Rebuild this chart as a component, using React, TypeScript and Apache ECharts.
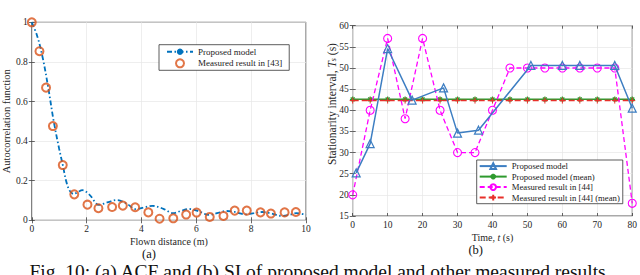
import React, { useEffect, useRef } from "react";
import * as echarts from "echarts";

// ---------- (a) ACF data ----------
const acfModelX = [0, 0.2, 0.4, 0.6, 0.8, 1.0, 1.13, 1.25, 1.38, 1.53, 1.65, 1.85, 2.1, 2.45, 2.75, 3.1, 3.45, 3.8, 4.1, 4.4, 4.8, 5.15, 5.45, 5.75, 6.1, 6.45, 6.8, 7.1, 7.4, 7.8, 8.1, 8.4, 8.75, 9.1, 9.4, 9.65, 10];
const acfModelY = [1, 0.93, 0.82, 0.67, 0.5, 0.36, 0.28, 0.2, 0.15, 0.133, 0.14, 0.152, 0.13, 0.078, 0.09, 0.102, 0.085, 0.056, 0.065, 0.073, 0.058, 0.036, 0.048, 0.057, 0.045, 0.027, 0.038, 0.047, 0.042, 0.03, 0.036, 0.042, 0.034, 0.022, 0.028, 0.036, 0.028];
const acfMeasX = [0, 0.28, 0.52, 0.77, 1.13, 1.55, 2.03, 2.43, 2.93, 3.32, 3.77, 4.25, 4.66, 5.16, 5.63, 6.01, 6.49, 6.99, 7.4, 7.84, 8.34, 8.72, 9.22, 9.63];
const acfMeasY = [1.0, 0.854, 0.67, 0.476, 0.279, 0.131, 0.079, 0.061, 0.067, 0.074, 0.066, 0.04, 0.008, 0.01, 0.029, 0.039, 0.017, 0.022, 0.049, 0.049, 0.04, 0.034, 0.04, 0.042];

// ---------- (b) SI data ----------
const siModelX = [1, 5, 10, 17, 26, 30, 36, 51, 60, 65, 75, 80];
const siModelY = [25.2, 32.1, 54.6, 42.4, 45.3, 34.6, 35.3, 50.6, 50.6, 50.6, 50.6, 40.5];
const siMeasX = [0, 5, 10, 15, 20, 25, 30, 35, 40, 45, 50, 55, 60, 65, 70, 75, 80];
const siMeasY = [20, 40, 57, 38, 57, 40, 30, 30, 40, 50, 50, 50, 50, 50, 50, 50, 18];
const meanX = [0, 5, 10, 15, 20, 25, 30, 35, 40, 45, 50, 55, 60, 65, 70, 75, 80];
const meanModelY = [42.6, 42.6, 42.6, 42.6, 42.6, 42.6, 42.6, 42.6, 42.6, 42.6, 42.6, 42.6, 42.6, 42.6, 42.6, 42.6, 42.6];
const meanMeasY = [42.3, 42.3, 42.3, 42.3, 42.3, 42.3, 42.3, 42.3, 42.3, 42.3, 42.3, 42.3, 42.3, 42.3, 42.3, 42.3, 42.3];

const FONT = "'Liberation Serif', 'Times New Roman', 'DejaVu Serif', serif";
const AX = "#262626";
const GRIDC = "#e6e6e6";

const zip = (xs: number[], ys: number[]) => xs.map((x, i) => [x, ys[i]]);

const legendNames: Record<string, string> = {
  "a|model": "Proposed model",
  "a|meas": "Measured result in [43]",
  "b|model": "Proposed model",
  "b|modelMean": "Proposed model (mean)",
  "b|meas": "Measured result in [44]",
  "b|measMean": "Measured result in [44] (mean)",
};

function mainX(gridIndex: number, min: number, max: number, interval: number, name: string, gap: number, rich?: any) {
  return {
    type: "value", gridIndex, min, max, interval, position: "bottom",
    name, nameLocation: "middle", nameGap: gap, nameMoveOverlap: false,
    nameTextStyle: { fontFamily: FONT, fontSize: 10, lineHeight: 11, color: AX, rich },
    axisLine: { show: false },
    axisTick: { show: true, inside: true, length: 3, lineStyle: { color: AX, width: 0.7 } },
    axisLabel: { margin: 4, fontFamily: FONT, fontSize: 9.5, color: AX },
    splitLine: { show: true, lineStyle: { color: GRIDC, width: 0.7 } },
  };
}
function mirrorX(gridIndex: number, min: number, max: number, interval: number) {
  return {
    type: "value", gridIndex, min, max, interval, position: "top",
    axisLine: { show: false },
    axisTick: { show: true, inside: true, length: 3, lineStyle: { color: AX, width: 0.7 } },
    axisLabel: { show: false }, splitLine: { show: false },
  };
}
function mainY(gridIndex: number, min: number, max: number, interval: number, name: string) {
  return {
    type: "value", gridIndex, min, max, interval, position: "left",
    name, nameLocation: "middle", nameGap: 17,
    nameTextStyle: { fontFamily: FONT, fontSize: 10.5, color: AX },
    axisLine: { show: false },
    axisTick: { show: true, inside: true, length: 3, lineStyle: { color: AX, width: 0.7 } },
    axisLabel: { margin: 4, fontFamily: FONT, fontSize: 9.5, color: AX },
    splitLine: { show: true, lineStyle: { color: GRIDC, width: 0.7 } },
  };
}
function mirrorY(gridIndex: number, min: number, max: number, interval: number) {
  return {
    type: "value", gridIndex, min, max, interval, position: "right",
    axisLine: { show: false },
    axisTick: { show: true, inside: true, length: 3, lineStyle: { color: AX, width: 0.7 } },
    axisLabel: { show: false }, splitLine: { show: false },
  };
}

const PLUS = "path://M0,5L10,5M5,0L5,10";
const STAR = "path://M5,0L5,10M0,5L10,5M1.5,1.5L8.5,8.5M8.5,1.5L1.5,8.5";

export default function App() {
  const ref = useRef<HTMLDivElement>(null);
  useEffect(() => {
    if (!ref.current) return;
    const chart = echarts.init(ref.current, null, { renderer: "svg" });
    const option: any = {
      animation: false,
      backgroundColor: "#ffffff",
      textStyle: { fontFamily: FONT },
      grid: [
        { left: 29.3, top: 22.3, width: 276.7, height: 198, show: true, borderColor: AX, borderWidth: 0.8, backgroundColor: "transparent" },
        { left: 352.7, top: 25.7, width: 283, height: 190.3, show: true, borderColor: AX, borderWidth: 0.8, backgroundColor: "transparent" },
      ],
      xAxis: [
        mainX(0, 0, 10, 2, "Flown distance (m)", 16),
        mirrorX(0, 0, 10, 2),
        mainX(1, 0, 80, 10, "Time, {i|t} (s)", 16, { i: { fontFamily: FONT, fontSize: 10, lineHeight: 11, fontStyle: "italic", color: AX } }),
        mirrorX(1, 0, 80, 10),
      ],
      yAxis: [
        mainY(0, 0, 1, 0.2, "Autocorrelation function"),
        mirrorY(0, 0, 1, 0.2),
        mainY(1, 15, 60, 5, ""),
        mirrorY(1, 15, 60, 5),
      ],
      legend: [
        {
          left: 159, top: 44.7, orient: "vertical", selectedMode: false,
          data: ["a|model", "a|meas"],
          formatter: (n: string) => legendNames[n] || n,
          backgroundColor: "#ffffff", borderColor: "#333333", borderWidth: 0.8,
          padding: [2, 7, 2, 7], itemWidth: 26, itemHeight: 8, itemGap: 1.6,
          textStyle: { fontFamily: FONT, fontSize: 9, color: "#1a1a1a", lineHeight: 10 },
        },
        {
          left: 476.7, top: 160, orient: "vertical", selectedMode: false,
          data: ["b|model", "b|modelMean", "b|meas", "b|measMean"],
          formatter: (n: string) => legendNames[n] || n,
          backgroundColor: "#ffffff", borderColor: "#333333", borderWidth: 0.8,
          padding: [1.5, 3, 1.5, 2], itemWidth: 27, itemHeight: 7, itemGap: 1.3,
          textStyle: { fontFamily: FONT, fontSize: 8.7, color: "#1a1a1a", lineHeight: 9.2 },
        },
      ],
      series: [
        {
          name: "a|model", type: "line", xAxisIndex: 0, yAxisIndex: 0,
          data: zip(acfModelX, acfModelY), smooth: 0.35, showSymbol: false, symbol: "none",
          lineStyle: { color: "#0072BD", width: 1.8, type: [5, 2.5, 1.5, 2.5] },
          itemStyle: { color: "#0072BD" }, z: 2,
        },
        {
          name: "a|meas", type: "scatter", xAxisIndex: 0, yAxisIndex: 0,
          data: zip(acfMeasX, acfMeasY), symbol: "circle", symbolSize: 8,
          itemStyle: { color: "rgba(255,255,255,0)", borderColor: "#D95319", borderWidth: 2 }, z: 3,
        },
        {
          name: "b|modelMean", type: "line", xAxisIndex: 2, yAxisIndex: 2,
          data: zip(meanX, meanModelY), symbol: STAR, symbolSize: 5.5, showSymbol: true,
          lineStyle: { color: "#2E9A2E", width: 1.5 },
          itemStyle: { color: "#2E9A2E", borderColor: "#2E9A2E", borderWidth: 1.2 }, z: 2,
        },
        {
          name: "b|measMean", type: "line", xAxisIndex: 2, yAxisIndex: 2,
          data: zip(meanX, meanMeasY), symbol: PLUS, symbolSize: 6, showSymbol: true,
          lineStyle: { color: "#E8302A", width: 1.4, type: [6, 3] },
          itemStyle: { color: "#E8302A", borderColor: "#E8302A", borderWidth: 1 }, z: 3,
        },
        {
          name: "b|meas", type: "line", xAxisIndex: 2, yAxisIndex: 2,
          data: zip(siMeasX, siMeasY), symbol: "circle", symbolSize: 8, showSymbol: true,
          lineStyle: { color: "#FF00FF", width: 1.3, type: [5, 3] },
          itemStyle: { color: "rgba(255,255,255,0)", borderColor: "#FF00FF", borderWidth: 1.1 }, z: 4,
        },
        {
          name: "b|model", type: "line", xAxisIndex: 2, yAxisIndex: 2,
          data: zip(siModelX, siModelY), symbol: "triangle", symbolSize: 8, showSymbol: true,
          lineStyle: { color: "#3D7EC2", width: 1.5 },
          itemStyle: { color: "rgba(255,255,255,0)", borderColor: "#3D7EC2", borderWidth: 1.2 }, z: 5,
        },
      ],
      graphic: [
        {
          type: "text", x: 331.5, y: 104, rotation: Math.PI / 2,
          style: {
            text: "Stationarity interval, {i|T}{s|s} (s)",
            fontFamily: FONT, fontSize: 11.5, fill: AX, align: "center", verticalAlign: "middle",
            rich: {
              i: { fontFamily: FONT, fontSize: 11.5, fontStyle: "italic", fill: AX, verticalAlign: "middle" },
              s: { fontFamily: FONT, fontSize: 8, fontStyle: "italic", fill: AX, verticalAlign: "bottom" },
            },
          },
        },
        { type: "text", x: 149, y: 254, style: { text: "(a)", fontFamily: FONT, fontSize: 12.5, lineHeight: 12, fill: "#111", align: "center", verticalAlign: "middle" } },
        { type: "text", x: 475.7, y: 250, style: { text: "(b)", fontFamily: FONT, fontSize: 12.5, lineHeight: 12, fill: "#111", align: "center", verticalAlign: "middle" } },
        { type: "text", x: 320, y: 281, style: { text: "Fig. 10: (a) ACF and (b) SI of proposed model and other measured results.", fontFamily: FONT, fontSize: 19.5, lineHeight: 19.5, fill: "#111", align: "center", verticalAlign: "bottom" } },
      ],
    };
    chart.setOption(option);
    return () => chart.dispose();
  }, []);
  return (
    <div
      ref={ref}
      style={{ position: "absolute", left: 0, top: 0, width: 640, height: 275, background: "#fff" }}
    />
  );
}
